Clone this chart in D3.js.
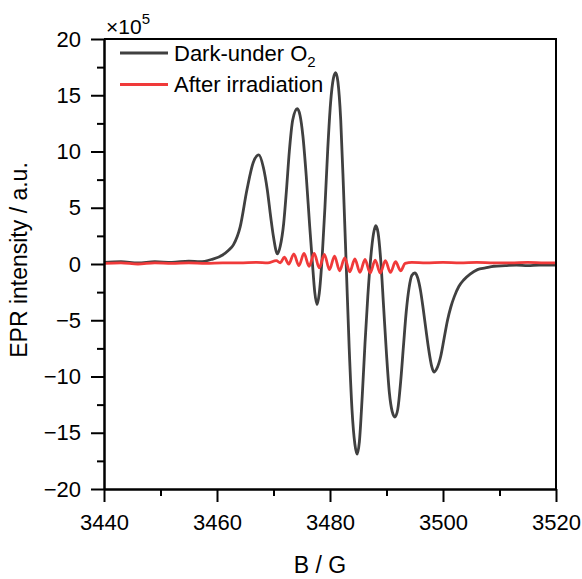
<!DOCTYPE html>
<html>
<head>
<meta charset="utf-8">
<script src="https://d3js.org/d3.v7.min.js"></script>
<style>
  body { margin: 0; background: #fff; }
  text { font-family: Arial, "Liberation Sans", sans-serif; fill: #000; }
</style>
</head>
<body>
<div id="graph"></div>
<script>
// field (G) and intensity (x1e5)
const darkB = [3440, 3443, 3446, 3449, 3452, 3455, 3457, 3459, 3461, 3462, 3462.9, 3464.1, 3465.3, 3466.4, 3467.4,
  3468.2, 3468.9, 3469.5, 3470.0, 3470.7,
  3471.2, 3471.8, 3472.3, 3472.8, 3473.4, 3474.2,
  3474.7, 3475.2, 3475.8, 3476.4, 3476.9, 3477.3, 3477.7,
  3478.1, 3478.6, 3479.1, 3479.6, 3480.1, 3480.6, 3481.0,
  3481.4, 3481.9, 3482.4, 3482.9, 3483.4, 3483.9, 3484.4, 3484.8,
  3485.2, 3485.7, 3486.2, 3486.7, 3487.2, 3487.7, 3488.1,
  3488.5, 3489.0, 3489.5, 3490.0, 3490.5, 3491.0, 3491.5,
  3492.0, 3492.5, 3493.0, 3493.5, 3494.0, 3494.5, 3495.0,
  3495.5, 3496.0, 3496.5, 3497.0, 3497.5, 3498.0, 3498.4,
  3498.9, 3499.6, 3500.2, 3500.8, 3501.4, 3502.0, 3502.8, 3503.7, 3504.8, 3506.1, 3507.5, 3509.0,
  3511, 3513, 3515, 3517, 3520];
const darkI = [0.15, 0.2, 0.1, 0.2, 0.15, 0.25, 0.2, 0.4, 0.8, 1.2, 1.7, 3.3, 6.6, 9.0, 9.7,
  8.6, 6.6, 4.2, 2.4, 0.9,
  1.6, 3.6, 6.6, 10.0, 12.8, 13.8,
  13.2, 11.4, 7.8, 3.4, 0.0, -2.5, -3.6,
  -2.6, 0.5, 5.0, 10.2, 14.3, 16.5, 17.0,
  16.2, 12.8, 6.5, -0.5, -7.5, -13.0, -16.0, -16.9,
  -15.8, -11.8, -7.0, -2.8, 0.5, 2.7, 3.4,
  2.8, 0.2, -3.9, -8.0, -11.4, -13.1, -13.6,
  -12.9, -10.5, -7.3, -4.2, -2.1, -1.0, -0.8,
  -1.2, -2.3, -4.0, -5.9, -7.7, -9.1, -9.6,
  -9.3, -8.2, -6.6, -5.0, -3.8, -2.9, -2.0, -1.4, -0.9, -0.5, -0.35, -0.2,
  -0.15, -0.1, -0.15, -0.1, -0.1];

const irrB = [3440, 3443, 3446, 3449, 3452, 3455, 3458, 3461, 3464, 3467, 3469, 3470.5, 3471.2,
  3471.9, 3472.7, 3473.6, 3474.5, 3475.4, 3476.3, 3477.2, 3478.1, 3479.0, 3479.9, 3480.8, 3481.7,
  3482.6, 3483.5, 3484.4, 3485.3, 3486.2, 3487.1, 3488.0, 3488.9, 3489.8, 3490.7, 3491.6, 3492.5,
  3493.3, 3494.5, 3497, 3500, 3503, 3506, 3509, 3512, 3515, 3518, 3520];
const irrI = [0.05, 0.1, 0.0, 0.1, 0.05, 0.1, 0.05, 0.1, 0.1, 0.15, 0.1, 0.3, 0.1,
  0.6, 0.0, 0.9, -0.15, 0.95, -0.2, 0.95, -0.35, 0.85, -0.5, 0.7, -0.6,
  0.55, -0.7, 0.45, -0.75, 0.4, -0.8, 0.35, -0.8, 0.3, -0.75, 0.2, -0.6,
  0.05, 0.15, 0.1, 0.15, 0.1, 0.15, 0.1, 0.1, 0.15, 0.1, 0.1];

const xTicks = [3440, 3460, 3480, 3500, 3520];
const xMinor = [3450, 3470, 3490, 3510];
const yTicks = [-20, -15, -10, -5, 0, 5, 10, 15, 20];
const yMinor = [-17.5, -12.5, -7.5, -2.5, 2.5, 7.5, 12.5, 17.5];

const width = 582, height = 579;
const margin = { top: 39, right: 26, bottom: 90, left: 104 };

const svg = d3.select('#graph').append('svg')
  .attr('width', width).attr('height', height);

const x = d3.scaleLinear().domain([3440, 3520]).range([margin.left, width - margin.right]);
const y = d3.scaleLinear().domain([-20, 20]).range([height - margin.bottom, margin.top]);

const series = [
  { name: 'dark', color: '#404040', pts: darkB.map((b, i) => [b, darkI[i]]) },
  { name: 'irr', color: '#f03a3a', pts: irrB.map((b, i) => [b, irrI[i]]) }
];

const line = d3.line()
  .x(d => x(d[0]))
  .y(d => y(d[1]))
  .curve(d3.curveMonotoneX);

svg.append('g').selectAll('path')
  .data(series)
  .enter().append('path')
  .attr('d', d => line(d.pts))
  .attr('fill', 'none')
  .attr('stroke', d => d.color)
  .attr('stroke-width', 2.8)
  .attr('stroke-linejoin', 'round');

// axes
function styleAxis(g) {
  g.selectAll('.domain').attr('stroke', '#000').attr('stroke-width', 2);
  g.selectAll('.tick line').attr('stroke', '#000').attr('stroke-width', 2);
  g.selectAll('.tick text').attr('font-size', 22).attr('fill', '#000')
    .style('font-family', 'Arial, "Liberation Sans", sans-serif');
}

svg.append('g')
  .attr('transform', 'translate(0,' + (height - margin.bottom) + ')')
  .call(d3.axisBottom(x).tickValues(xMinor).tickSize(7).tickSizeOuter(0).tickFormat(''))
  .call(styleAxis);
svg.append('g')
  .attr('transform', 'translate(0,' + (height - margin.bottom) + ')')
  .call(d3.axisBottom(x).tickValues(xTicks).tickSize(13).tickSizeOuter(0).tickPadding(12).tickFormat(d3.format('d')))
  .call(styleAxis);

svg.append('g')
  .attr('transform', 'translate(' + margin.left + ',0)')
  .call(d3.axisLeft(y).tickValues(yMinor).tickSize(7).tickSizeOuter(0).tickFormat(''))
  .call(styleAxis);
svg.append('g')
  .attr('transform', 'translate(' + margin.left + ',0)')
  .call(d3.axisLeft(y).tickValues(yTicks).tickSize(13).tickSizeOuter(0).tickPadding(10))
  .call(styleAxis);

// top and right frame
svg.append('path')
  .attr('d', 'M' + x(3440) + ',' + y(20) + 'H' + x(3520) + 'V' + y(-20))
  .attr('fill', 'none')
  .attr('stroke', '#000')
  .attr('stroke-width', 2);

// axis titles
svg.append('text')
  .attr('x', 320).attr('y', 573)
  .attr('text-anchor', 'middle')
  .attr('font-size', 23)
  .text('B / G');

svg.append('text')
  .attr('transform', 'translate(27,260) rotate(-90)')
  .attr('text-anchor', 'middle')
  .attr('font-size', 23)
  .text('EPR intensity / a.u.');

// multiplier
const mult = svg.append('text')
  .attr('x', 106).attr('y', 34)
  .attr('font-size', 21);
mult.append('tspan').text('×10');
mult.append('tspan').attr('font-size', 15).attr('dy', -10).text('5');

// legend
const legendItems = [
  { label: 'Dark-under O', sub: '2', color: '#404040' },
  { label: 'After irradiation', sub: null, color: '#f03a3a' }
];
const legend = svg.append('g').selectAll('g')
  .data(legendItems)
  .enter().append('g')
  .attr('transform', (d, i) => 'translate(120,' + (53 + i * 31.5) + ')');
legend.append('line')
  .attr('x1', 0).attr('x2', 48)
  .attr('stroke', d => d.color)
  .attr('stroke-width', 2.8);
const lt = legend.append('text')
  .attr('x', 54).attr('dy', '0.35em')
  .attr('font-size', 22);
lt.append('tspan').text(d => d.label);
lt.filter(d => d.sub).append('tspan')
  .attr('font-size', 15).attr('dy', 6)
  .text(d => d.sub);
</script>
</body>
</html>
